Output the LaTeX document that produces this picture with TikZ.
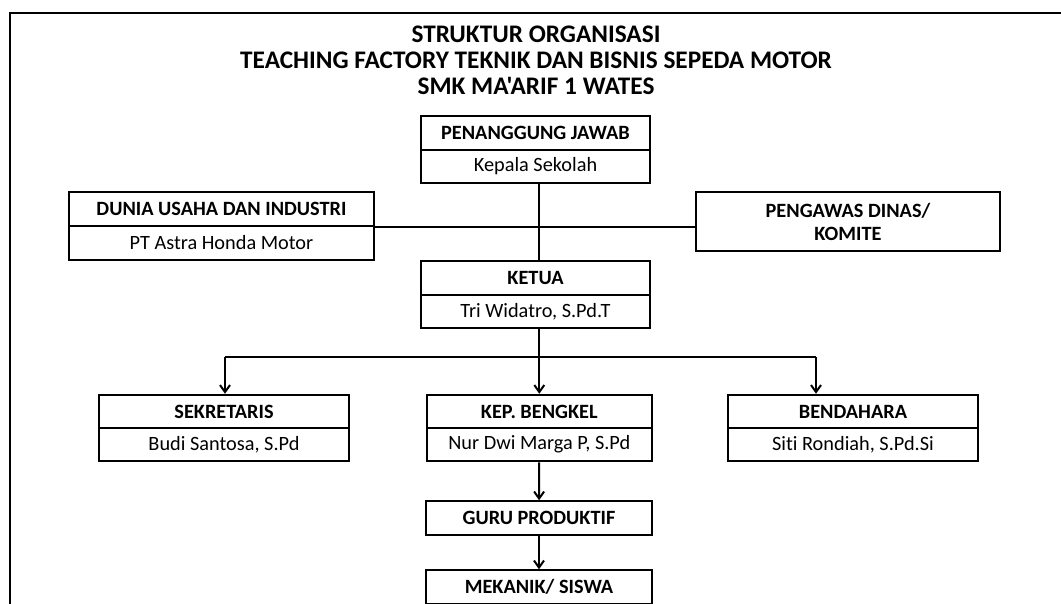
\documentclass[tikz,border=0pt]{standalone}
\usepackage{fontspec}
\setmainfont{Carlito}[Ligatures=NoCommon]
\newfontfamily\calibri{Carlito}[Ligatures=NoCommon]
\usetikzlibrary{arrows.meta}
\tikzset{
    kotak/.style={draw, line width=2pt, minimum height=33.5pt, inner sep=0pt, font=\calibri\fontsize{20.3}{23}\selectfont},
    jabatan/.style={kotak, font=\calibri\fontsize{20.3}{23}\selectfont\bfseries},
    pejabat/.style={kotak},
    garis/.style={line width=2pt},
    panah/.style={garis, -{Straight Barb[length=7pt, width=10pt]}},
}

\begin{document}
\begin{tikzpicture}[x=1pt, y=-1pt]
\clip (0,0) rectangle (1061,603);
\draw[line width=2.4pt] (10,13) rectangle (1100,650);
\node[align=center, font=\calibri\fontsize{25.3}{26}\selectfont\bfseries] (judul) at (536,60) {STRUKTUR ORGANISASI\\TEACHING FACTORY TEKNIK DAN BISNIS SEPEDA MOTOR\\SMK MA'ARIF 1 WATES};
\node[jabatan, minimum width=229pt] (pj) at (535.5,133) {PENANGGUNG JAWAB};
\node[pejabat, minimum width=229pt] (pjnama) at (535.5,166.5) {Kepala Sekolah};
\node[jabatan, minimum width=305pt] (dunia) at (221.5,209) {DUNIA USAHA DAN INDUSTRI};
\node[pejabat, minimum width=305pt] (dunianama) at (221.5,243) {PT Astra Honda Motor};
\node[jabatan, minimum width=304pt, minimum height=59pt, align=center] (pengawas) at (848,221.5) {PENGAWAS DINAS/\\KOMITE};
\node[jabatan, minimum width=229pt] (ketua) at (535.5,278) {KETUA};
\node[pejabat, minimum width=229pt] (ketuanama) at (535.5,311.5) {Tri Widatro, S.Pd.T};
\node[jabatan, minimum width=250pt] (sekretaris) at (224,411.5) {SEKRETARIS};
\node[pejabat, minimum width=250pt] (sekretarisnama) at (224,444.5) {Budi Santosa, S.Pd};
\node[jabatan, minimum width=225pt] (kep) at (539.3,411.5) {KEP. BENGKEL};
\node[pejabat, minimum width=225pt] (kepnama) at (539.3,444.5) {Nur Dwi Marga P, S.Pd};
\node[jabatan, minimum width=250pt] (bendahara) at (853,411.5) {BENDAHARA};
\node[pejabat, minimum width=250pt] (bendaharanama) at (853,444.5) {Siti Rondiah, S.Pd.Si};
\node[jabatan, minimum width=226pt] (guru) at (539,518) {GURU PRODUKTIF};
\node[jabatan, minimum width=226pt] (mekanik) at (539,587) {MEKANIK/ SISWA};
\coordinate (kiri) at (225,357);
\coordinate (kanan) at (816,357);
\draw[garis] (pjnama.south -| kep.north) -- (ketua.north -| kep.north);
\draw[garis] (dunia.south east) -- (dunia.south east -| pengawas.west);
\draw[panah] (ketuanama.south -| kep.north) -- (kep.north);
\draw[garis] (kiri) -- (kanan);
\draw[panah] (kiri) -- (kiri |- sekretaris.north);
\draw[panah] (kanan) -- (kanan |- bendahara.north);
\draw[panah] (kepnama) -- (guru);
\draw[panah] (guru) -- (mekanik);
\end{tikzpicture}
\end{document}
